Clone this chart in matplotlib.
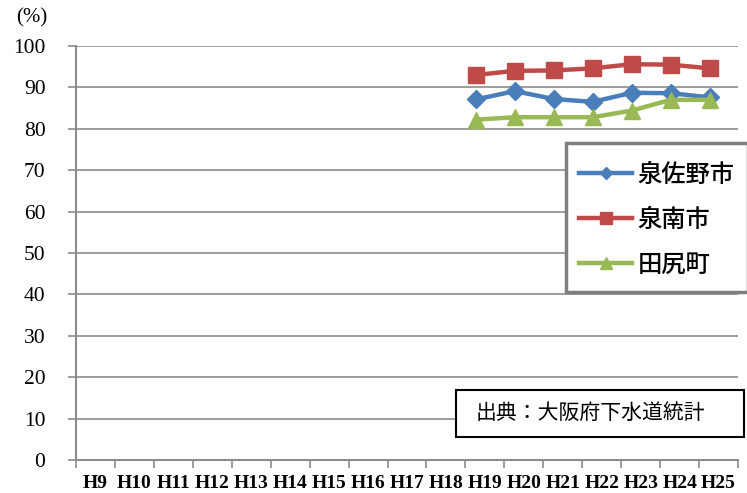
import matplotlib
matplotlib.use("Agg")
import matplotlib.pyplot as plt
import matplotlib.transforms as mtransforms
from matplotlib.patches import Rectangle
import numpy as np

# Sewer connection rate (%) by fiscal year
years = ["H9", "H10", "H11", "H12", "H13", "H14", "H15", "H16", "H17",
         "H18", "H19", "H20", "H21", "H22", "H23", "H24", "H25"]
data_years = ["H19", "H20", "H21", "H22", "H23", "H24", "H25"]
izumisano = [87.1, 89.1, 87.2, 86.5, 88.7, 88.6, 87.6]
sennan = [93.0, 94.0, 94.1, 94.6, 95.6, 95.5, 94.6]
tajiri = [82.2, 82.8, 82.8, 82.8, 84.4, 87.0, 87.0]
yticks = [0, 10, 20, 30, 40, 50, 60, 70, 80, 90, 100]

fig = plt.figure(figsize=(7.47, 4.93), dpi=100)
ax = fig.add_axes([76 / 747, 1 - 460 / 493, (738 - 76) / 747, (460 - 46) / 493])

ax.set_xlim(-0.5, len(years) - 0.5)
ax.set_ylim(0, 100)

# horizontal gridlines
ax.set_yticks(yticks)
ax.yaxis.grid(True, color="#8c8c8c", linewidth=1.2)
ax.set_axisbelow(True)

for side in ("top", "right"):
    ax.spines[side].set_visible(False)
for side in ("left", "bottom"):
    ax.spines[side].set_color("#8c8c8c")
    ax.spines[side].set_linewidth(1.5)

ax.set_yticklabels([str(v) for v in yticks], fontfamily="Liberation Serif",
                   fontsize=15.5)
ax.tick_params(axis="y", length=6, width=1.2, color="#8c8c8c", pad=16)

# x ticks at category boundaries, labels at centres
ax.set_xticks(np.arange(len(years) + 1) - 0.5)
ax.set_xticklabels([])
ax.set_xticks(np.arange(len(years)), minor=True)
ax.set_xticklabels(years, minor=True, fontfamily="Liberation Serif",
                   fontweight="bold", fontsize=14)
ax.tick_params(axis="x", which="major", length=6, width=1.2, color="#8c8c8c")
ax.tick_params(axis="x", which="minor", length=0, pad=11)

xpos = [years.index(y) for y in data_years]
shift = mtransforms.offset_copy(ax.transData, fig=fig, x=-9, y=0, units="dots")

ax.plot(xpos, izumisano, color="#4a7ebb", linewidth=3.2, marker="D",
        markersize=9, label="泉佐野市", transform=shift, clip_on=False)
ax.plot(xpos, sennan, color="#be4b48", linewidth=3.2, marker="s",
        markersize=12, label="泉南市", transform=shift, clip_on=False)
ax.plot(xpos, tajiri, color="#98b954", linewidth=3.2, marker="^",
        markersize=12, label="田尻町", transform=shift, clip_on=False)

fig.text(16 / 747, 1 - 18 / 493, "(%)", fontfamily="Liberation Serif",
         fontsize=15, va="center", ha="left")

# legend frame
fig.patches.append(Rectangle((566 / 747, 1 - 292 / 493), (748 - 566) / 747,
                             (292 - 143) / 493, transform=fig.transFigure,
                             facecolor="white", edgecolor="#7f7f7f",
                             linewidth=2.5, zorder=5))
handles, labels = ax.get_legend_handles_labels()
leg = fig.legend(handles, labels, loc="upper left",
                 bbox_to_anchor=(579 / 747, 1 - 162 / 493),
                 bbox_transform=fig.transFigure, borderaxespad=0,
                 prop={"family": ["Noto Sans CJK JP", "DejaVu Sans"],
                       "size": 17.5, "weight": "medium"},
                 frameon=False, handlelength=2.2,
                 handletextpad=0.2, labelspacing=0.78, borderpad=0,
                 markerscale=0.7)
leg.set_zorder(6)

# source note box
fig.patches.append(Rectangle((456 / 747, 1 - 437 / 493), (744 - 456) / 747,
                             (437 - 390) / 493, transform=fig.transFigure,
                             facecolor="white", edgecolor="black",
                             linewidth=1.5, zorder=5))
fig.text(476 / 747, 1 - 413 / 493, "出典：大阪府下水道統計",
         fontfamily=["Noto Sans CJK JP", "DejaVu Sans"], fontsize=15,
         va="center", ha="left", zorder=6)

fig.savefig("out.png", dpi=100)
